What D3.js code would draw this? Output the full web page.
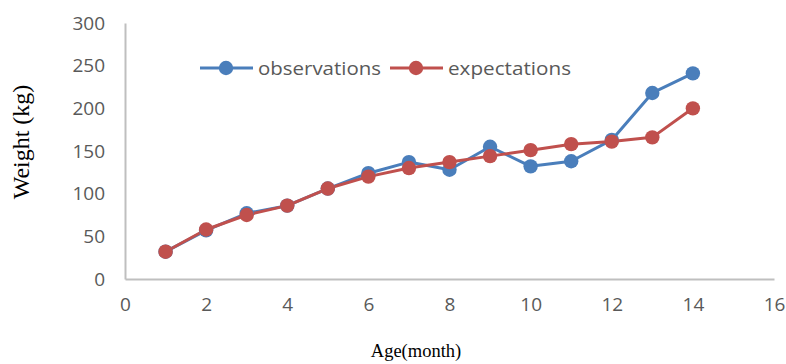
<!DOCTYPE html>
<html>
<head>
<meta charset="utf-8">
<script src="https://cdn.jsdelivr.net/npm/d3@7"></script>
<style>
  html, body { margin: 0; padding: 0; background: #fff; }
  svg { display: block; }
</style>
</head>
<body>
<script>
// Monthly weight data
const months = [1, 2, 3, 4, 5, 6, 7, 8, 9, 10, 11, 12, 13, 14];
const observations = [32, 57, 77, 86, 106, 124, 137, 128, 155, 132, 138, 163, 218, 241];
const expectations = [32, 58, 75, 86, 106, 120, 130, 137, 144, 151, 158, 161, 166, 200];
const xTicks = [0, 2, 4, 6, 8, 10, 12, 14, 16];
const yTicks = [0, 50, 100, 150, 200, 250, 300];
const seriesNames = ["observations", "expectations"];
const seriesColors = ["#4a7ebb", "#c0504d"];

const W = 786, H = 364;
const svg = d3.select("body").append("svg").attr("width", W).attr("height", H);

const x = d3.scaleLinear().domain([0, 16]).range([125, 774]);
const y = d3.scaleLinear().domain([0, 300]).range([279, 23]);

// Axes: plain grey lines, no tick marks
const xAxis = svg.append("g").attr("transform", `translate(0,${y(0)})`)
  .call(d3.axisBottom(x).tickValues(xTicks).tickSize(0).tickPadding(19));
const yAxis = svg.append("g").attr("transform", `translate(${x(0)},0)`)
  .call(d3.axisLeft(y).tickValues(yTicks).tickSize(0).tickPadding(20));
[xAxis, yAxis].forEach(g => {
  g.select(".domain").attr("stroke", "#bfbfbf").attr("stroke-width", 2);
  g.selectAll("text").attr("fill", "#595959")
    .style("font-family", "'Open Sans', 'Noto Sans', sans-serif")
    .style("font-size", "19px");
});
xAxis.selectAll("text").attr("dy", "0.7em");

// Series lines and markers
const line = d3.line().x((d, i) => x(months[i])).y(d => y(d));
[observations, expectations].forEach((vals, k) => {
  svg.append("path").datum(vals)
    .attr("fill", "none").attr("stroke", seriesColors[k])
    .attr("stroke-width", 3).attr("stroke-linejoin", "round")
    .attr("d", line);
});
[observations, expectations].forEach((vals, k) => {
  svg.append("g").selectAll("circle").data(vals).join("circle")
    .attr("cx", (d, i) => x(months[i])).attr("cy", d => y(d))
    .attr("r", 7.2).attr("fill", seriesColors[k]);
});

// Legend
const legendItems = [
  { x0: 200, name: seriesNames[0], color: seriesColors[0] },
  { x0: 390, name: seriesNames[1], color: seriesColors[1] }
];
const ly = 68;
legendItems.forEach(it => {
  const g = svg.append("g");
  g.append("line").attr("x1", it.x0).attr("x2", it.x0 + 53)
    .attr("y1", ly).attr("y2", ly).attr("stroke", it.color).attr("stroke-width", 3);
  g.append("circle").attr("cx", it.x0 + 26).attr("cy", ly).attr("r", 7.2).attr("fill", it.color);
  g.append("text").attr("x", it.x0 + 58).attr("y", ly).attr("dy", "0.35em")
    .attr("fill", "#595959")
    .style("font-family", "'Open Sans', 'Noto Sans', sans-serif")
    .style("font-size", "19px")
    .attr("textLength", 123).attr("lengthAdjust", "spacingAndGlyphs")
    .text(it.name);
});

// Axis titles
svg.append("text")
  .attr("transform", `translate(29,142) rotate(-90)`)
  .attr("text-anchor", "middle")
  .style("font-family", "'Liberation Serif', 'Times New Roman', serif")
  .style("font-size", "24px").attr("fill", "#000")
  .text("Weight (kg)");
svg.append("text")
  .attr("x", 416).attr("y", 357)
  .attr("text-anchor", "middle")
  .style("font-family", "'Liberation Serif', 'Times New Roman', serif")
  .style("font-size", "18.5px").attr("fill", "#000")
  .text("Age(month)");
</script>
</body>
</html>
